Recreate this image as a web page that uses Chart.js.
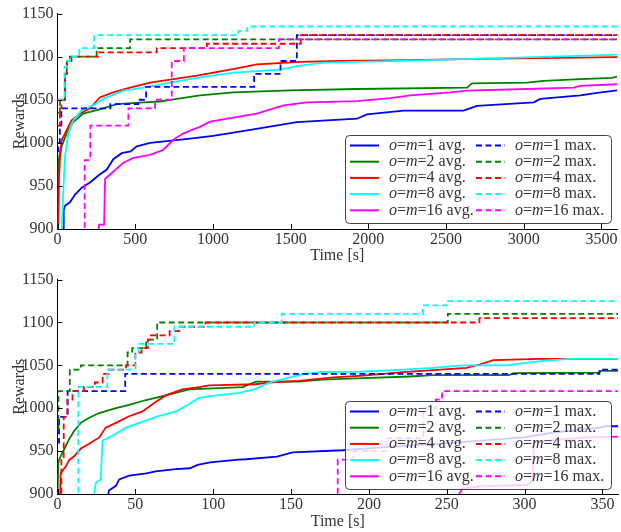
<!DOCTYPE html>
<html>
<head>
<meta charset="utf-8">
<title>Rewards over time</title>
<script src="https://cdn.jsdelivr.net/npm/chart.js@4.4.1/dist/chart.umd.min.js"></script>
<style>
  html, body { margin: 0; padding: 0; background: #fff; }
  #wrap { position: relative; width: 621px; height: 532px; }
  .panel { position: absolute; left: 0; width: 621px; height: 266px; }
</style>
</head>
<body>
<div id="wrap">
  <div class="panel" style="top:0"><canvas id="chart-long" width="621" height="266"></canvas></div>
  <div class="panel" style="top:266px"><canvas id="chart-short" width="621" height="266"></canvas></div>
</div>
<script>
const SERIF = "'Liberation Serif', 'DejaVu Serif', serif";
const TEXT_COLOR = '#333';

const settings = ['1', '2', '4', '8', '16'];
const lineColors = ['#0000ff', '#008000', '#ff0000', '#00ffff', '#ff00ff'];

const rewardTicks = [900, 950, 1000, 1050, 1100, 1150];
const longTimeTicks = [0, 500, 1000, 1500, 2000, 2500, 3000, 3500];
const shortTimeTicks = [0, 50, 100, 150, 200, 250, 300, 350];

// Full hour: [time in s, reward]
const longAvg1 = [[20, 880], [38, 900], [40, 922], [48, 927], [80, 931], [113, 940], [156, 948], [209, 954], [263, 962], [317, 969], [359, 981], [413, 988], [470, 990], [510, 996], [596, 1000], [703, 1002], [853, 1005], [1000, 1008], [1102, 1011], [1240, 1015], [1540, 1024], [1927, 1028], [1991, 1033], [2227, 1037.5], [2613, 1037.5], [2699, 1043], [3064, 1047], [3107, 1051], [3364, 1055], [3472, 1058], [3600, 1061]];
const longAvg2 = [[0, 900], [1, 940], [5, 975], [12, 985], [27, 996], [59, 1011], [102, 1024], [166, 1034], [295, 1040], [381, 1045], [553, 1047], [660, 1048], [767, 1051], [917, 1055], [1132, 1058.5], [1497, 1061], [1927, 1062.5], [2635, 1064], [2667, 1069], [3021, 1070], [3128, 1072], [3364, 1074], [3569, 1075.5], [3600, 1077]];
const longAvg4 = [[0, 880], [4, 900], [10, 960], [17, 985], [27, 1003], [59, 1015], [91, 1026], [145, 1034], [209, 1040], [274, 1053], [359, 1058.5], [467, 1064], [596, 1070], [746, 1074], [896, 1078], [1111, 1085], [1283, 1091], [1561, 1094], [1803, 1095], [2270, 1096], [2699, 1097.5], [3343, 1099], [3600, 1099.5]];
const longAvg8 = [[20, 880], [27, 897], [37, 943], [48, 984], [70, 1011], [102, 1026], [156, 1038], [231, 1043.5], [295, 1051], [424, 1060.5], [553, 1064], [724, 1070], [917, 1076], [1132, 1081.5], [1433, 1085], [1540, 1089], [1711, 1093], [2270, 1095.5], [2957, 1099], [3343, 1101], [3600, 1102.5]];
const longAvg16 = [[250, 880], [263, 897], [268, 905], [300, 905], [306, 958], [349, 965], [424, 977], [488, 982.5], [596, 986], [681, 992], [746, 1003.5], [810, 1011], [917, 1018.5], [982, 1024.5], [1283, 1034], [1454, 1043.5], [1605, 1047], [1927, 1048.5], [2141, 1052], [2270, 1055], [2527, 1058.5], [2635, 1060.5], [3021, 1062.5], [3320, 1064], [3364, 1066], [3600, 1068]];

// best-so-far runs: each point starts a new level
const longMax1 = [[0, 990], [6, 1000], [15, 1020], [25, 1040], [340, 1045], [520, 1050], [570, 1065], [1265, 1080], [1435, 1095], [1540, 1125], [3600, 1125]];
const longMax2 = [[0, 1035], [16, 1050], [48, 1080], [60, 1095], [80, 1100], [252, 1110], [467, 1120], [3600, 1120]];
const longMax4 = [[0, 1020], [15, 1040], [25, 1050], [48, 1080], [60, 1095], [90, 1100], [261, 1105], [639, 1110], [961, 1115], [1565, 1125], [3600, 1125]];
const longMax8 = [[0, 1050], [45, 1088], [60, 1095], [80, 1100], [140, 1110], [235, 1125], [1165, 1130], [1221, 1135], [3600, 1135]];
const longMax16 = [[170, 880], [175, 980], [211, 1020], [456, 1040], [628, 1050], [735, 1095], [813, 1110], [1424, 1120], [3600, 1120]];

// First 360 s: [time in s, reward]
const shortAvg1 = [[31, 880], [33, 904], [37.5, 909.5], [39.6, 917], [46, 921.5], [57, 924], [63, 926.5], [76, 929], [85, 930], [90, 934], [98, 937], [116, 940], [121, 940.5], [141, 943.5], [151, 948.5], [183, 951], [213, 955], [256, 960], [299, 966], [320, 972], [348, 977.5], [352, 979], [360, 979]];
const shortAvg2 = [[0, 900], [0.5, 935], [1, 940], [4, 951], [7.5, 964], [10.7, 973.5], [15, 983], [20, 988.7], [26.8, 994.4], [37.5, 1000], [46, 1004], [56.8, 1009.6], [65, 1013], [74, 1017], [84.6, 1022], [119, 1024.6], [127.5, 1031], [155, 1031], [170, 1033.3], [192, 1034.8], [226, 1037], [241, 1038.5], [290, 1038.5], [293, 1041], [348, 1041.5], [349, 1043.5], [360, 1043.5]];
const shortAvg4 = [[1.5, 880], [2, 924.6], [5.3, 932], [7.5, 939.7], [10.7, 944], [15, 953], [20.3, 958.6], [26.8, 966], [31, 977.4], [37.5, 983], [46, 990.7], [54.6, 996.3], [63.2, 1007.6], [69.6, 1015], [80, 1022], [91, 1024.6], [97.5, 1026.6], [127, 1028], [136, 1030], [155, 1032], [177, 1036], [196, 1038], [222, 1042], [262.6, 1047], [271, 1051], [280, 1056], [310, 1057.5], [360, 1057.5]];
const shortAvg8 = [[23, 880], [23.5, 900], [24.6, 913], [27.8, 917], [28.9, 962.3], [35.3, 968], [44, 977.4], [52.5, 983], [65, 990.7], [76, 996.3], [84.6, 1005], [91, 1012], [99.6, 1014.4], [116.8, 1018], [127.5, 1022.7], [136, 1030], [146.8, 1034.8], [157.5, 1039.7], [170, 1042.4], [192, 1042.4], [216, 1044.5], [241, 1047], [260, 1050], [288, 1050], [310, 1055], [329, 1057.5], [360, 1057.5]];
const shortAvg16 = [[256, 880], [258, 900], [260, 906], [271, 909], [302, 910.7], [305, 915], [306, 960], [320, 963], [340, 966], [360, 967]];

const shortMax1 = [[0, 960], [1, 990], [6.5, 1020], [43.5, 1040], [348, 1045], [360, 1045]];
const shortMax2 = [[0, 975], [0.6, 1020], [7.9, 1045], [15, 1050], [45, 1065], [48, 1070], [57, 1080], [64, 1100], [250.7, 1110], [360, 1110]];
const shortMax4 = [[1.5, 880], [2.5, 940], [4, 990], [6.4, 1010], [9.6, 1020], [17, 1025], [24, 1030], [29, 1040], [33, 1045], [44, 1050], [50, 1065], [54, 1070], [58, 1080], [60, 1085], [72, 1090], [78, 1095], [95, 1100], [271, 1105], [360, 1105]];
const shortMax8 = [[13, 880], [13.4, 1025], [32, 1045], [50, 1065], [52, 1075], [75, 1095], [126.4, 1100], [144, 1110], [234.7, 1120], [249.7, 1125], [360, 1125]];
const shortMax16 = [[179, 880], [180, 940], [190, 950], [211, 965], [235, 1000], [243, 1010], [247, 1020], [360, 1020]];

function buildDatasets(avgSeries, maxSeries) {
    const sets = [];
    avgSeries.forEach((pts, i) => {
        sets.push({
            label: `o=m=${settings[i]} avg.`,
            data: pts.map(([t, r]) => ({ x: t, y: r })),
            borderColor: lineColors[i],
            borderWidth: 1.8,
            pointRadius: 0,
            tension: 0,
            fill: false
        });
    });
    maxSeries.forEach((pts, i) => {
        sets.push({
            label: `o=m=${settings[i]} max.`,
            data: pts.map(([t, r]) => ({ x: t, y: r })),
            borderColor: lineColors[i],
            borderWidth: 1.8,
            borderDash: [6, 3.5],
            // hold the old level, then jump at the new point
            stepped: 'before',
            pointRadius: 0,
            fill: false
        });
    });
    // later series sit on top of earlier ones
    sets.forEach((s, i) => { s.order = sets.length - i; });
    return sets;
}

// "o=m=4 avg." -> italic o and m, upright rest
function drawMathLabel(ctx, label, x, y) {
    const parts = label.split('=');
    const pieces = [
        [parts[0], 'italic'],
        ['=', 'normal'],
        [parts[1], 'italic'],
        ['=' + parts.slice(2).join('='), 'normal']
    ];
    ctx.textBaseline = 'middle';
    ctx.textAlign = 'left';
    ctx.fillStyle = TEXT_COLOR;
    let cx = x;
    pieces.forEach(([txt, style]) => {
        ctx.font = `${style} 16px ${SERIF}`;
        ctx.fillText(txt, cx, y);
        cx += ctx.measureText(txt).width;
    });
}

// two-column legend box inside the plot area
const boxLegend = {
    id: 'boxLegend',
    afterDatasetsDraw(chart, args, opts) {
        const ctx = chart.ctx;
        const { x, y, w, h } = opts;
        ctx.save();
        ctx.beginPath();
        ctx.roundRect(x + 0.5, y + 0.5, w, h, 4);
        ctx.fillStyle = 'rgba(255,255,255,0.8)';
        ctx.fill();
        ctx.strokeStyle = '#444';
        ctx.lineWidth = 1;
        ctx.stroke();
        chart.data.datasets.forEach((ds, i) => {
            const col = Math.floor(i / 5);
            const row = i % 5;
            const rowY = y + 10.5 + row * 16.2;
            const lx = x + 5 + col * 126;
            ctx.beginPath();
            ctx.setLineDash(ds.borderDash || []);
            ctx.strokeStyle = ds.borderColor;
            ctx.lineWidth = 2;
            ctx.moveTo(lx, rowY);
            ctx.lineTo(lx + 29, rowY);
            ctx.stroke();
            ctx.setLineDash([]);
            drawMathLabel(ctx, ds.label, lx + 39, rowY);
        });
        ctx.restore();
    }
};

// short tick marks pointing into the plot
const innerTicks = {
    id: 'innerTicks',
    afterDraw(chart) {
        const { ctx, chartArea, scales } = chart;
        ctx.save();
        ctx.strokeStyle = '#000';
        ctx.lineWidth = 1;
        ctx.beginPath();
        scales.x.ticks.forEach(t => {
            const px = Math.round(scales.x.getPixelForValue(t.value)) + 0.5;
            ctx.moveTo(px, chartArea.bottom);
            ctx.lineTo(px, chartArea.bottom - 5);
        });
        scales.y.ticks.forEach(t => {
            const py = Math.round(scales.y.getPixelForValue(t.value)) + 0.5;
            ctx.moveTo(chartArea.left, py);
            ctx.lineTo(chartArea.left + 5, py);
        });
        ctx.stroke();
        ctx.restore();
    }
};

function makeChart(canvasId, avgSeries, maxSeries, xMax, timeTicks, padRight, xAxisHeight) {
    const tickFont = { family: SERIF, size: 16 };
    return new Chart(document.getElementById(canvasId), {
        type: 'line',
        data: { datasets: buildDatasets(avgSeries, maxSeries) },
        plugins: [boxLegend, innerTicks],
        options: {
            responsive: false,
            animation: false,
            devicePixelRatio: 1,
            layout: { padding: { top: 10, right: padRight, bottom: 0, left: 0 } },
            plugins: {
                legend: { display: false },
                tooltip: { enabled: false },
                boxLegend: { x: 345, y: 135, w: 266, h: 88 }
            },
            scales: {
                x: {
                    type: 'linear',
                    min: 0,
                    max: xMax,
                    grid: { display: false, drawTicks: false },
                    border: { display: true, color: '#000', width: 1 },
                    ticks: {
                        padding: 1,
                        autoSkip: false,
                        color: TEXT_COLOR,
                        font: tickFont,
                        maxRotation: 0,
                        callback: v => String(v)
                    },
                    afterBuildTicks: s => { s.ticks = timeTicks.map(v => ({ value: v })); },
                    afterFit: s => { s.height = xAxisHeight; },
                    title: {
                        display: true,
                        text: 'Time [s]',
                        color: TEXT_COLOR,
                        font: { family: SERIF, size: 16 },
                        padding: { top: 0, bottom: 0.5 }
                    }
                },
                y: {
                    min: 900,
                    max: 1150,
                    grid: { display: false, drawTicks: false },
                    border: { display: true, color: '#000', width: 1 },
                    ticks: {
                        padding: 4,
                        autoSkip: false,
                        color: TEXT_COLOR,
                        font: tickFont,
                        callback: v => String(v)
                    },
                    afterBuildTicks: s => { s.ticks = rewardTicks.map(v => ({ value: v })); },
                    afterFit: s => { s.width = 57.5; },
                    title: {
                        display: true,
                        text: 'Rewards',
                        color: TEXT_COLOR,
                        font: { family: SERIF, size: 16 },
                        padding: { top: 10, bottom: 0 }
                    }
                }
            }
        }
    });
}

makeChart('chart-long',
    [longAvg1, longAvg2, longAvg4, longAvg8, longAvg16],
    [longMax1, longMax2, longMax4, longMax8, longMax16],
    3600, longTimeTicks, 4, 37);

makeChart('chart-short',
    [shortAvg1, shortAvg2, shortAvg4, shortAvg8, shortAvg16],
    [shortMax1, shortMax2, shortMax4, shortMax8, shortMax16],
    360, shortTimeTicks, 3, 38);
</script>
</body>
</html>
